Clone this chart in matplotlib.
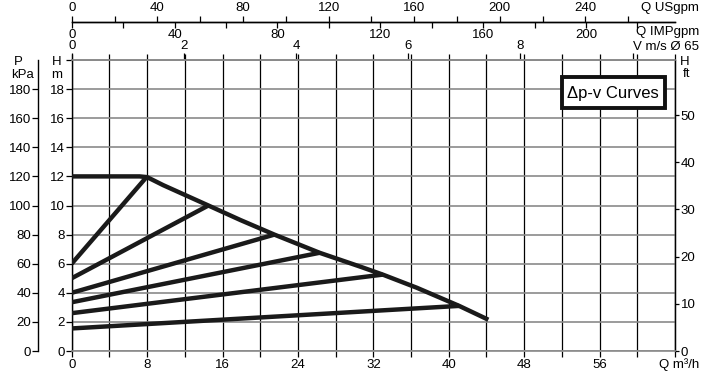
import matplotlib
matplotlib.use("Agg")
import matplotlib.pyplot as plt
from matplotlib.patches import Rectangle
from matplotlib.ticker import MultipleLocator, FixedLocator

plt.rcParams['font.family'] = ['Liberation Sans', 'DejaVu Sans']

# max curve (Q m3/h, H m)
q_max = [0, 7.2, 8.0, 9.7, 14.5, 17.9, 21.5, 26.3, 30.6, 33.0, 36.6, 41.1, 44.2]
h_max = [12.0, 12.0, 11.95, 11.4, 10.0, 9.0, 8.0, 6.75, 5.8, 5.25, 4.35, 3.1, 2.15]

# dp-v lines: head at Q=0 -> point on max curve
h_start = [6.0, 5.0, 4.0, 3.35, 2.6, 1.55]
q_end = [8.0, 14.5, 21.5, 26.3, 33.0, 41.1]
h_end = [12.0, 10.0, 8.0, 6.75, 5.25, 3.1]

# axis ticks
q_labels = [0, 8, 16, 24, 32, 40, 48, 56]
h_labels = [0, 2, 4, 6, 8, 10, 12, 14, 16, 18]
p_labels = [0, 20, 40, 60, 80, 100, 120, 140, 160, 180]
ft_labels = [0, 10, 20, 30, 40, 50]
v_labels = [0, 2, 4, 6, 8, 10]
us_labels = [0, 40, 80, 120, 160, 200, 240]
imp_labels = [0, 40, 80, 120, 160, 200]

# conversions as drawn on the chart
USGPM = 0.2271    # m3/h per US gpm
IMPGPM = 0.2728   # m3/h per IMP gpm
VMS = 5.95        # m3/h per m/s
FT = 3.083        # ft per m
KPA = 10.0        # kPa per m

W, Hpx = 710, 374
fig = plt.figure(figsize=(W / 100, Hpx / 100), dpi=100)
x0, x1, y0, y1 = 71.7, 675, 351, 60
ax = fig.add_axes([x0 / W, 1 - y0 / Hpx, (x1 - x0) / W, (y0 - y1) / Hpx])
ax.set_xlim(0, 64)
ax.set_ylim(0, 20)

fs = 9.5
gray = '#8a8a8a'

# grid
ax.xaxis.set_major_locator(FixedLocator(q_labels + [64]))
ax.xaxis.set_minor_locator(MultipleLocator(4))
ax.set_xticklabels([str(v) for v in q_labels] + [''])
ax.set_yticks(h_labels + [20])
ax.set_yticklabels([str(v) for v in h_labels] + [''])
ax.grid(axis='x', which='both', color='black', lw=0.9)
ax.grid(axis='y', which='major', color=gray, lw=1.2)
ax.set_axisbelow(True)

ax.tick_params(axis='x', which='both', direction='out', length=4, width=0.9,
               top=True, labelsize=fs, pad=1.5)
ax.tick_params(axis='y', which='major', direction='out', length=4, width=0.9,
               labelsize=fs, pad=1, color='black')
for s in ['top', 'bottom']:
    ax.spines[s].set_color(gray)
    ax.spines[s].set_linewidth(1.2)
for s in ['left', 'right']:
    ax.spines[s].set_linewidth(1.0)

# curves
ax.plot(q_max, h_max, color='#1a1a1a', lw=3.2, solid_capstyle='butt', zorder=4)
for hs, qe, he in zip(h_start, q_end, h_end):
    ax.plot([0, qe], [hs, he], color='#1a1a1a', lw=3.2, solid_capstyle='butt', zorder=4)

# legend box
ax.add_patch(Rectangle((52.0, 16.68), 10.9, 2.13, fc='white', ec='#111111', lw=2.8, zorder=5))
ax.text(57.45, 17.72, '\u0394p-v Curves', ha='center', va='center', fontsize=12,
        family=['Liberation Sans Narrow', 'Liberation Sans', 'DejaVu Sans'], zorder=6)

# P kPa axis on the far left
p_ax = ax.secondary_yaxis((38 - x0) / (x1 - x0), functions=(lambda h: h * KPA, lambda p: p / KPA))
p_ax.set_yticks(p_labels)
p_ax.tick_params(direction='out', length=4, width=0.9, labelsize=fs, pad=1)
p_ax.spines['left'].set_linewidth(1.0)

# H ft axis on the right
ft_ax = ax.secondary_yaxis('right', functions=(lambda h: h * FT, lambda f: f / FT))
ft_ax.set_yticks(ft_labels)
ft_ax.tick_params(direction='out', length=3, width=0.9, labelsize=fs, pad=1)

# velocity axis on top spine
v_ax = ax.secondary_xaxis('top', functions=(lambda q: q / VMS, lambda v: v * VMS))
v_ax.set_xticks(v_labels)
v_ax.set_xticklabels([str(v) for v in v_labels[:-1]] + [''])
v_ax.tick_params(direction='out', length=5, width=0.9, labelsize=fs, pad=1)
v_ax.spines['top'].set_color(gray)
v_ax.spines['top'].set_linewidth(1.2)

# US gpm / IMP gpm shared line
loc = (y0 - 22) / (y0 - y1)
us_ax = ax.secondary_xaxis(loc, functions=(lambda q: q / USGPM, lambda g: g * USGPM))
us_ax.set_alignment('top')
us_ax.set_xticks(us_labels)
us_ax.xaxis.set_minor_locator(FixedLocator([20, 60, 100, 140, 180, 220, 260]))
us_ax.tick_params(which='both', direction='out', length=4, width=0.9, labelsize=fs, pad=2)
us_ax.spines['top'].set_linewidth(1.0)

imp_ax = ax.secondary_xaxis(loc, functions=(lambda q: q / IMPGPM, lambda g: g * IMPGPM))
imp_ax.set_alignment('bottom')
imp_ax.set_xticks(imp_labels)
imp_ax.xaxis.set_minor_locator(FixedLocator([20, 60, 100, 140, 180, 220]))
imp_ax.tick_params(which='both', direction='out', length=4, width=0.9, labelsize=fs, pad=1)
imp_ax.spines['bottom'].set_linewidth(1.0)


def ftext(x, y, s, **kw):
    fig.text(x / W, 1 - y / Hpx, s, fontsize=fs, va='center', **kw)


ftext(18, 62, 'P', ha='center')
ftext(23, 75, 'kPa', ha='center')
ftext(57, 62, 'H', ha='center')
ftext(57, 75, 'm', ha='center')
ftext(680, 62, 'H', ha='left')
ftext(683, 74, 'ft', ha='left')
ftext(699, 8, 'Q USgpm', ha='right')
ftext(699, 32, 'Q IMPgpm', ha='right')
ftext(699, 47, 'V m/s \u00d8 65', ha='right')
ftext(699, 365, 'Q m\u00b3/h', ha='right')

fig.savefig('out.png', dpi=100)
